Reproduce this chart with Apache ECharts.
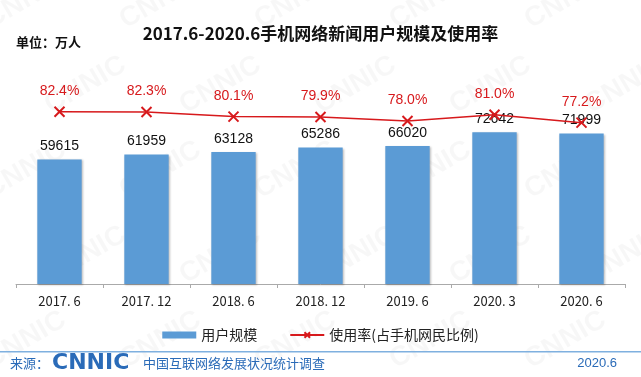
<!DOCTYPE html>
<html>
<head>
<meta charset="utf-8">
<script src="https://cdn.jsdelivr.net/npm/echarts@6/dist/echarts.min.js"></script>
<style>
  html, body { margin: 0; padding: 0; background: #fff; }
  #chart { width: 641px; height: 377px; }
</style>
</head>
<body>
<div id="chart"></div>
<script>
const categories = ['2017. 6', '2017. 12', '2018. 6', '2018. 12', '2019. 6', '2020. 3', '2020. 6'];
const users = [59615, 61959, 63128, 65286, 66020, 72642, 71999];
const rate = [82.4, 82.3, 80.1, 79.9, 78.0, 81.0, 77.2];

const font = '"Noto Sans CJK SC", "Liberation Sans", sans-serif';
const blue = '#5b9bd5';
const red = '#d7191c';

// 水印
const marks = [];
for (let r = 0; r < 5; r++) {
  for (let c = 0; c < 6; c++) {
    marks.push({
      type: 'text',
      x: c * 135 + (r % 2) * 60 - 20,
      y: r * 85 + 10,
      rotation: Math.PI / 6,
      z: -1,
      style: { text: 'CNNIC', fill: 'rgba(0,0,0,0.03)', font: 'bold 28px "Liberation Sans", sans-serif' }
    });
  }
}

const chart = echarts.init(document.getElementById('chart'));
chart.setOption({
  animation: false,
  textStyle: { fontFamily: font },
  title: {
    text: '2017.6-2020.6手机网络新闻用户规模及使用率',
    left: 'center',
    top: 20,
    textStyle: { fontSize: 17, fontWeight: 'bold', color: '#111', fontFamily: font }
  },
  grid: { left: 16, right: 16, top: 75, bottom: 93 },
  legend: {
    bottom: 30,
    left: 'center',
    itemGap: 32,
    itemWidth: 34,
    itemHeight: 7,
    textStyle: { fontSize: 14, color: '#222' },
    data: [
      { name: '用户规模', icon: 'rect' },
      { name: '使用率(占手机网民比例)' }
    ]
  },
  xAxis: {
    type: 'category',
    data: categories,
    axisLine: { lineStyle: { color: '#aaa' } },
    axisTick: { show: true, length: 4, lineStyle: { color: '#aaa' } },
    axisLabel: { color: '#222', fontSize: 13, margin: 11 }
  },
  yAxis: [
    { type: 'value', min: 0, max: 100000, show: false, splitLine: { show: false } },
    { type: 'value', min: 0, max: 100, show: false, splitLine: { show: false } }
  ],
  series: [
    {
      name: '用户规模',
      type: 'bar',
      data: users,
      barWidth: '51%',
      itemStyle: { color: blue, shadowColor: 'rgba(0,0,0,0.25)', shadowBlur: 2, shadowOffsetX: 1, shadowOffsetY: 1 },
      label: { show: true, position: 'top', distance: 6, color: '#111', fontSize: 14, fontFamily: '"Liberation Sans", sans-serif' }
    },
    {
      name: '使用率(占手机网民比例)',
      type: 'line',
      yAxisIndex: 1,
      data: rate,
      symbol: 'path://M-1,-1L1,1M1,-1L-1,1',
      symbolSize: 10,
      color: red,
      lineStyle: { color: red, width: 1.5 },
      itemStyle: { color: 'none', borderColor: red, borderWidth: 2 },
      label: {
        show: true, position: 'top', distance: 6, color: red, fontSize: 14,
        fontFamily: '"Liberation Sans", sans-serif',
        formatter: p => p.value.toFixed(1) + '%'
      }
    }
  ],
  graphic: marks.concat([
    {
      type: 'text', left: 16, top: 36,
      style: { text: '单位：万人', fill: '#111', font: 'bold 13px "Noto Sans CJK SC", sans-serif' }
    },
    {
      type: 'rect', shape: { x: 0, y: 351, width: 641, height: 1.5 },
      style: { fill: '#7fb0df' }
    },
    {
      type: 'text', left: 10, top: 357,
      style: { text: '来源：', fill: '#2a6bb8', font: '13px "Noto Sans CJK SC", sans-serif' }
    },
    {
      type: 'text', left: 52, top: 352,
      style: { text: 'CNNIC', fill: '#2a6bb8', font: 'bold 22px "DejaVu Sans", sans-serif' }
    },
    {
      type: 'text', left: 143, top: 357,
      style: { text: '中国互联网络发展状况统计调查', fill: '#2a6bb8', font: '13px "Noto Sans CJK SC", sans-serif' }
    },
    {
      type: 'text', right: 24, top: 357,
      style: { text: '2020.6', fill: '#2a6bb8', font: '13px "Liberation Sans", sans-serif' }
    }
  ])
});
</script>
</body>
</html>
